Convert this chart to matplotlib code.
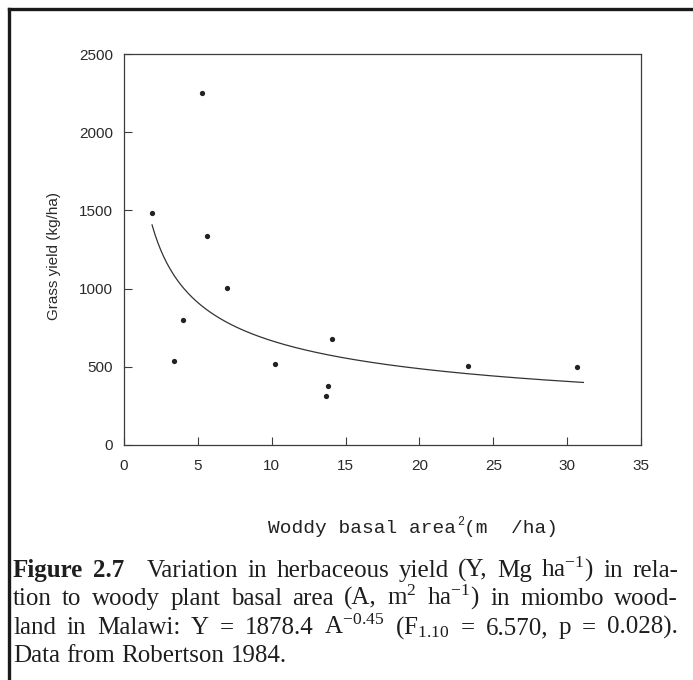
import matplotlib
matplotlib.use("Agg")
import matplotlib.pyplot as plt
import numpy as np
from matplotlib.lines import Line2D

# ---- data ----
basal_area = [1.9, 3.4, 4.0, 5.3, 5.6, 7.0, 10.2, 13.7, 13.8, 14.1, 23.3, 30.7]
grass_yield = [1483, 538, 801, 2248, 1335, 1006, 517, 316, 378, 677, 502, 500]
fit_coef = 1878.4
fit_exp = -0.45
fit_range = [1.9, 31.1]
xticks = [0, 5, 10, 15, 20, 25, 30, 35]
yticks = [0, 500, 1000, 1500, 2000, 2500]

W, H = 693, 680
fig = plt.figure(figsize=(W / 100, H / 100), dpi=100)
fig.patch.set_facecolor("white")
plt.rcParams["mathtext.fontset"] = "stix"

def px(x, y):
    return x / W, 1 - y / H

# axes placement (pixels)
L, R, T, B = 124, 641, 54, 445
ax = fig.add_axes([L / W, 1 - B / H, (R - L) / W, (B - T) / H])
ax.set_xlim(0, 35)
ax.set_ylim(0, 2500)
ax.set_xticks(xticks)
ax.set_yticks(yticks)
for s in ax.spines.values():
    s.set_color("#3c3c3c")
    s.set_linewidth(0.9)
ax.tick_params(direction="in", length=6, width=0.8, color="#3c3c3c",
               labelsize=11, labelcolor="#2a2a2a")
ax.tick_params(axis="x", pad=10)
ax.tick_params(axis="y", pad=8)
for lab in ax.get_xticklabels() + ax.get_yticklabels():
    lab.set_family("Liberation Sans")

xs = np.linspace(fit_range[0], fit_range[1], 300)
ax.plot(xs, fit_coef * xs ** fit_exp, color="#333333", lw=0.9)
ax.plot(basal_area, grass_yield, "o", color="#222222", ms=3.8, mec="none")

# y label
fig.text(*px(54, 256), "Grass yield (kg/ha)", rotation=90, ha="center", va="center",
         family="Liberation Sans", fontsize=11, color="#2a2a2a")

fig.canvas.draw()
rend = fig.canvas.get_renderer()

# x label (monospace, with misplaced superscript as in original)
xl_x, xl_y = 268, 533
t1 = fig.text(*px(xl_x, xl_y), "Woddy basal area", family="Liberation Mono",
              fontsize=14, va="baseline", color="#222222")
w1 = t1.get_window_extent(rend).width
t2 = fig.text(*px(xl_x + w1 + 1, xl_y - 8), "2", family="Liberation Mono",
              fontsize=8.5, va="baseline", color="#222222")
w2 = t2.get_window_extent(rend).width
fig.text(*px(xl_x + w1 + w2 + 1, xl_y), "(m  /ha)", family="Liberation Mono",
         fontsize=14, va="baseline", color="#222222")

# caption (justified lines)
cap_size = 18
x0, x1 = 13, 678

def line(words, y, justify=True):
    texts = []
    for w, bold, extra in words:
        t = fig.text(0, 1 - y / H, w, family="Liberation Serif", fontsize=cap_size,
                     fontweight="bold" if bold else "normal", va="baseline",
                     color="#1e1e1e")
        texts.append((t, extra))
    widths = [t.get_window_extent(rend).width for t, _ in texts]
    ngaps = sum(1 + e for _, e in texts[:-1])
    if justify:
        gap = (x1 - x0 - sum(widths)) / ngaps
    else:
        gap = cap_size * 100 / 72 * 0.25
    x = x0
    for (t, e), w in zip(texts, widths):
        t.set_x(x / W)
        x += w + gap * (1 + e)

def words_of(s, bold_first=0, extra=None):
    ws = s.split(" ")
    return [(w, i < bold_first, (extra or {}).get(i, 0)) for i, w in enumerate(ws)]

l1 = words_of(r"Figure 2.7 Variation in herbaceous yield (Y, Mg ha$^{\mathregular{-1}}$) in rela-",
              bold_first=2, extra={1: 1.5})
l2 = words_of(r"tion to woody plant basal area (A, m$^{\mathregular{2}}$ ha$^{\mathregular{-1}}$) in miombo wood-")
l3 = words_of(r"land in Malawi: Y = 1878.4 A$^{\mathregular{-0.45}}$ (F$_{\mathregular{1.10}}$ = 6.570, p = 0.028).")
l4 = words_of("Data from Robertson 1984.")
line(l1, 577)
line(l2, 605)
line(l3, 634)
line(l4, 662, justify=False)

# figure frame (left and top edges visible)
fig.add_artist(Line2D([9 / W, 9 / W], [0, 1 - 9 / H], transform=fig.transFigure,
                      color="#1a1a1a", lw=2.4, solid_capstyle="projecting"))
fig.add_artist(Line2D([9 / W, 1], [1 - 9 / H, 1 - 9 / H], transform=fig.transFigure,
                      color="#1a1a1a", lw=2.4, solid_capstyle="projecting"))

fig.savefig("out.png", dpi=100, facecolor="white")
